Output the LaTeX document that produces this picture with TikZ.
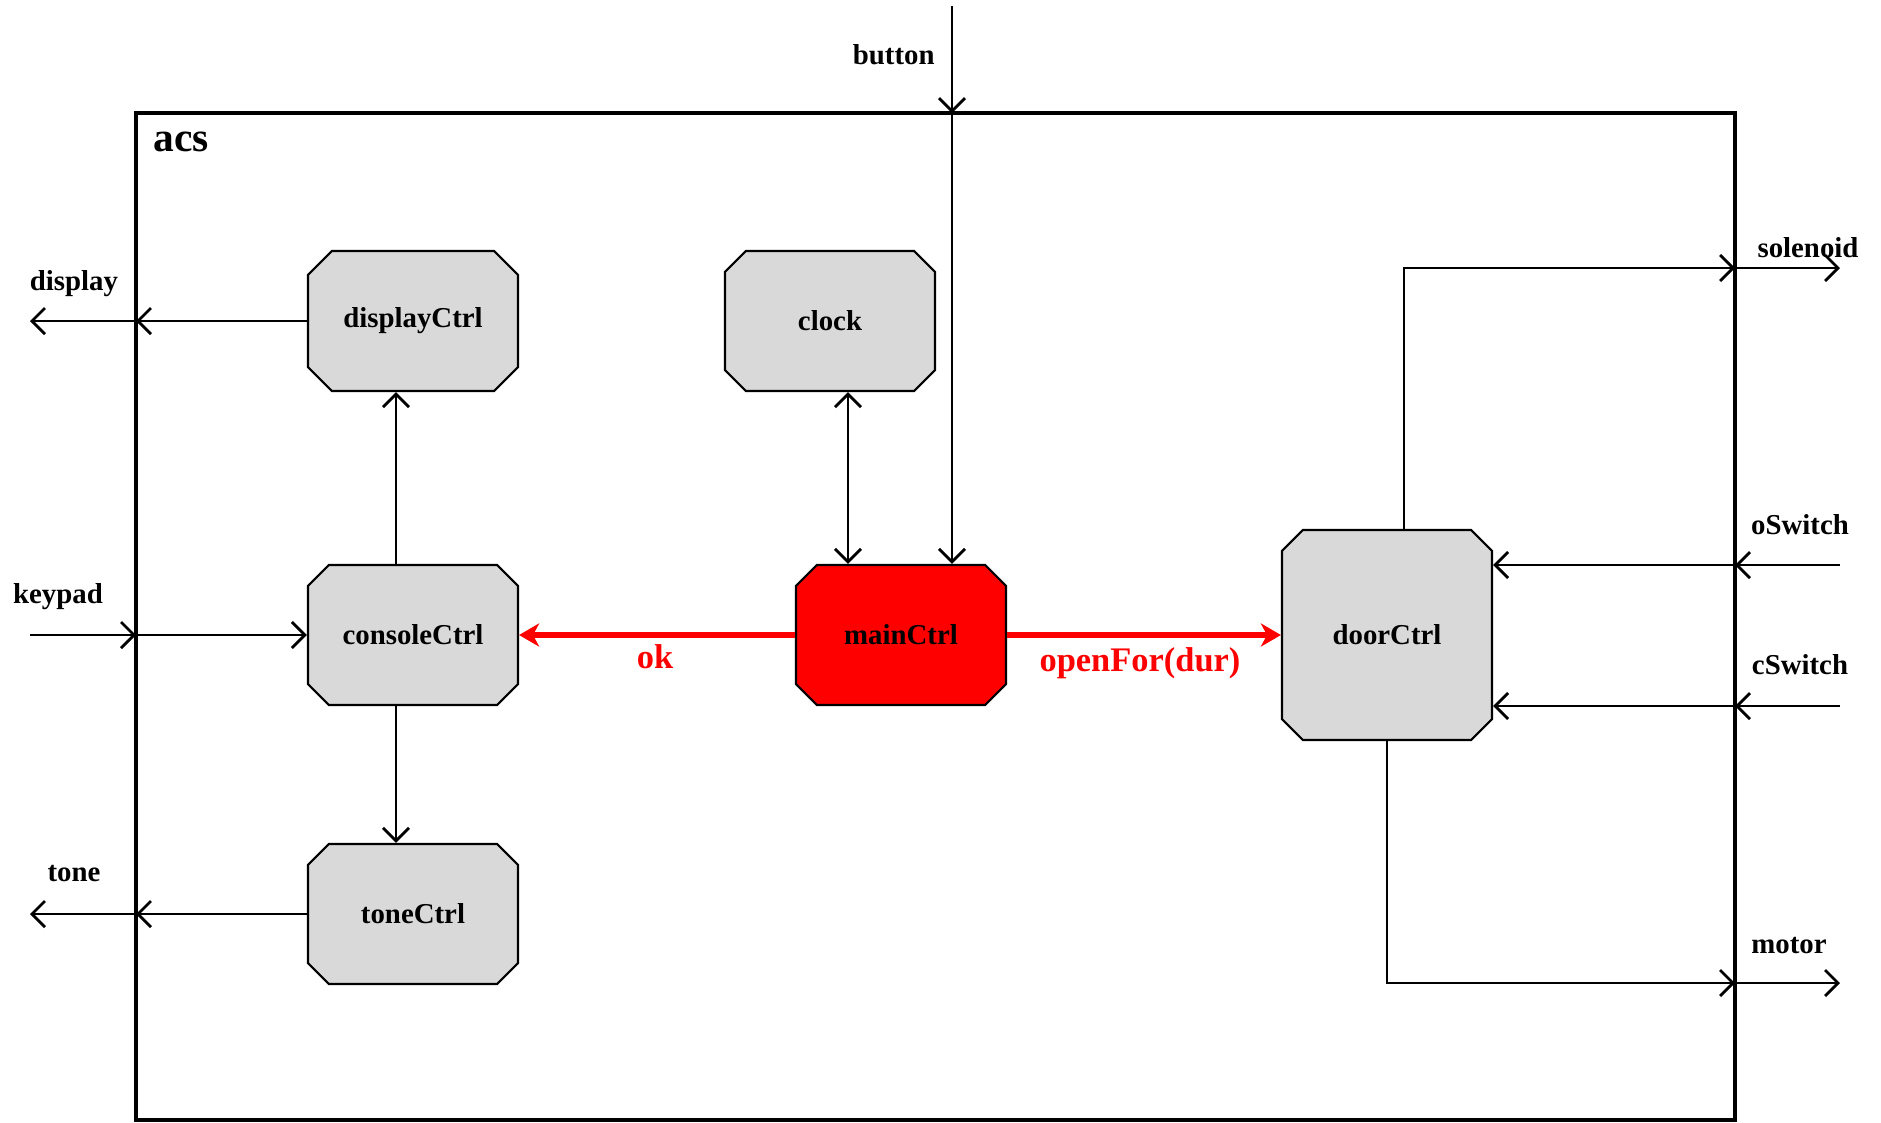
\documentclass[tikz,border=0pt]{standalone}
\usepackage{fontspec}
\setmainfont{Liberation Serif}
\usepackage{tikz}
\usetikzlibrary{arrows.meta,shapes.misc}
\definecolor{ctrlgray}{RGB}{217,217,217}
\def\framel{1.36}
\def\framer{17.35}
\def\framet{-1.13}
\tikzstyle{wire} = [line width=0.8pt,->,>={Straight Barb[length=1.3mm,width=2.6mm]}]
\tikzstyle{msg} = [red,line width=1.5pt,-{Stealth[length=2mm,width=2.3mm,inset=0.6mm]}]

\begin{document}
\begin{tikzpicture}
    \tikzstyle{ctrl}=[chamfered rectangle,chamfered rectangle xsep=2.2mm,draw=black,fill=ctrlgray,line width=0.6pt,minimum width=2.1cm,minimum height=1.4cm,inner sep=0pt,font=\fontsize{8.2}{10}\selectfont\bfseries]
    \tikzstyle{main ctrl}=[ctrl, fill=red]
    \tikzstyle{port}=[font=\fontsize{8.2}{10}\selectfont\bfseries]
    \tikzstyle{msg label}=[red,font=\fontsize{9.8}{12}\selectfont\bfseries]

    \useasboundingbox (0,0) rectangle (18.81,-11.22);

    % Draw the system frame
    \draw[line width=0.9pt] (\framel,\framet) rectangle (\framer,-11.20);
    \node[font=\fontsize{11.8}{14}\selectfont\bfseries] (acs) at (1.81,-1.42) {acs};

    % Draw the controllers
    \node[ctrl] (displayCtrl) at (4.13,-3.21) {displayCtrl};
    \node[ctrl] (clock) at (8.30,-3.21) {clock};
    \node[ctrl] (consoleCtrl) at (4.13,-6.35) {consoleCtrl};
    \node[ctrl] (toneCtrl) at (4.13,-9.14) {toneCtrl};
    \node[main ctrl] (mainCtrl) at (9.01,-6.35) {mainCtrl};
    \node[ctrl, minimum height=2.1cm] (doorCtrl) at (13.87,-6.35) {doorCtrl};

    % Port points on the frame and outside it
    \foreach \name / \y in {display/-3.21, keypad/-6.35, tone/-9.14}
    {
        \coordinate (\name B) at (\framel,\y);
        \coordinate (\name E) at (0.30,\y);
    }
    \foreach \name / \y in {solenoid/-2.68, oSwitch/-5.65, cSwitch/-7.06, motor/-9.83}
    {
        \coordinate (\name B) at (\framer,\y);
        \coordinate (\name E) at (18.40,\y);
    }
    \coordinate (buttonB) at (9.52,\framet);
    \coordinate (buttonE) at (9.52,-0.06);

    % Left ports
    \draw[wire] (displayCtrl.west) -- (displayB);
    \draw[wire] (displayB) -- (displayE);
    \draw[wire] (keypadE) -- (keypadB);
    \draw[wire] (keypadB) -- (consoleCtrl.west);
    \draw[wire] (toneCtrl.west) -- (toneB);
    \draw[wire] (toneB) -- (toneE);

    % Button port
    \draw[wire] (buttonE) -- (buttonB);
    \draw[wire] (buttonB) -- (buttonB |- mainCtrl.north);

    % Right ports
    \draw[wire] ([xshift=1.7mm]doorCtrl.north) |- (solenoidB);
    \draw[wire] (solenoidB) -- (solenoidE);
    \draw[wire] (oSwitchE) -- (oSwitchB);
    \draw[wire] (oSwitchB) -- (oSwitchB -| doorCtrl.east);
    \draw[wire] (cSwitchE) -- (cSwitchB);
    \draw[wire] (cSwitchB) -- (cSwitchB -| doorCtrl.east);
    \draw[wire] (doorCtrl.south) |- (motorB);
    \draw[wire] (motorB) -- (motorE);

    % Connections inside the frame
    \draw[wire] ([xshift=-1.7mm]consoleCtrl.north) -- ([xshift=-1.7mm]displayCtrl.south);
    \draw[wire] ([xshift=-1.7mm]consoleCtrl.south) -- ([xshift=-1.7mm]toneCtrl.north);
    \draw[wire,<->] ([xshift=1.8mm]clock.south) -- ([xshift=1.8mm]clock.south |- mainCtrl.north);

    % Messages of mainCtrl
    \draw[msg] (mainCtrl.west) -- (consoleCtrl.east);
    \draw[msg] (mainCtrl.east) -- (doorCtrl.west);
    \node[msg label] (okL) at (6.55,-6.57) {ok};
    \node[msg label] (openL) at (11.40,-6.63) {openFor(dur)};

    % Annotate the ports
    \node[port, anchor=east] (buttonL) at (9.47,-0.55) {button};
    \node[port] (displayL) at (0.74,-2.84) {display};
    \node[port] (keypadL) at (0.58,-5.97) {keypad};
    \node[port] (toneL) at (0.74,-8.74) {tone};
    \node[port] (solenoidL) at (18.08,-2.48) {solenoid};
    \node[port] (oSwitchL) at (18.00,-5.25) {oSwitch};
    \node[port] (cSwitchL) at (18.00,-6.65) {cSwitch};
    \node[port] (motorL) at (17.89,-9.46) {motor};
\end{tikzpicture}
\end{document}
